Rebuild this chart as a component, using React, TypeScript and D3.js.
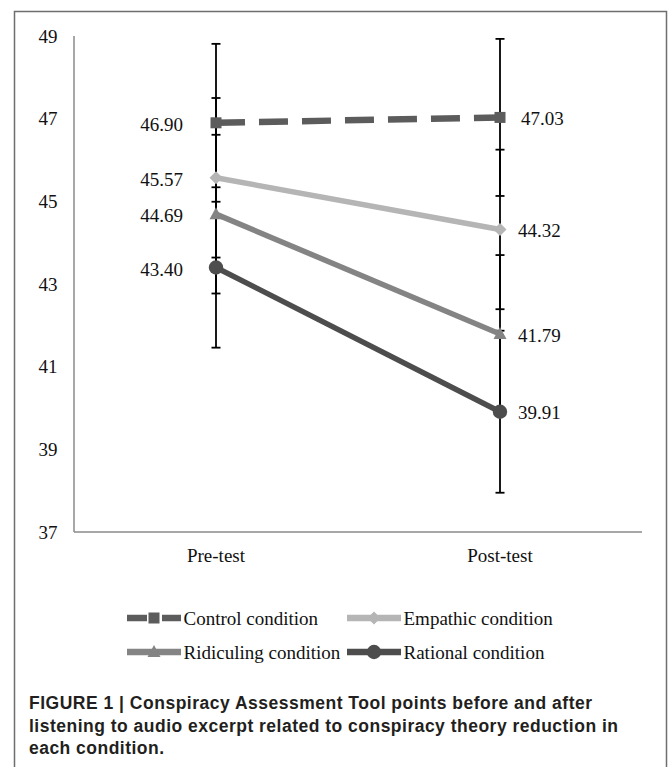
import React from "react";
import * as d3 from "d3";

const categories = ["Pre-test", "Post-test"];
const seriesNames = ["Control condition", "Empathic condition", "Ridiculing condition", "Rational condition"];
const controlValues = [46.9, 47.03];
const empathicValues = [45.57, 44.32];
const ridiculingValues = [44.69, 41.79];
const rationalValues = [43.4, 39.91];
const controlErrors = [1.91, 1.9];
const empathicErrors = [1.93, 1.93];
const ridiculingErrors = [1.92, 1.91];
const rationalErrors = [1.94, 1.96];
const yTicks = [37, 39, 41, 43, 45, 47, 49];
const captionLines = [
  "FIGURE 1 | Conspiracy Assessment Tool points before and after",
  "listening to audio excerpt related to conspiracy theory reduction in",
  "each condition.",
];
const captionWidths = [563, 589, 135];

type Series = {
  name: string;
  values: number[];
  errors: number[];
  color: string;
  marker: "square" | "diamond" | "triangle" | "circle";
  dashed: boolean;
};

const series: Series[] = [
  { name: seriesNames[0], values: controlValues, errors: controlErrors, color: "#5c5c5c", marker: "square", dashed: true },
  { name: seriesNames[1], values: empathicValues, errors: empathicErrors, color: "#b5b5b5", marker: "diamond", dashed: false },
  { name: seriesNames[2], values: ridiculingValues, errors: ridiculingErrors, color: "#848484", marker: "triangle", dashed: false },
  { name: seriesNames[3], values: rationalValues, errors: rationalErrors, color: "#4d4d4d", marker: "circle", dashed: false },
];

const SERIF = "'Liberation Serif', 'Times New Roman', serif";
const SANS = "'Liberation Sans', Arial, sans-serif";

function Marker({ type, x, y, color }: { type: string; x: number; y: number; color: string }) {
  if (type === "square") return <rect x={x - 5.5} y={y - 5.5} width={11} height={11} fill={color} />;
  if (type === "diamond")
    return <path d={`M${x},${y - 6.5}L${x + 6.5},${y}L${x},${y + 6.5}L${x - 6.5},${y}Z`} fill={color} />;
  if (type === "triangle")
    return <path d={`M${x},${y - 7}L${x + 6.5},${y + 5}L${x - 6.5},${y + 5}Z`} fill={color} />;
  return <circle cx={x} cy={y} r={7.2} fill={color} />;
}

export default function App() {
  const W = 669;
  const H = 767;
  const x = d3.scalePoint<string>().domain(categories).range([74, 642]).padding(0.5);
  const y = d3.scaleLinear().domain([37, 49]).range([532, 36]);
  const line = d3
    .line<number>()
    .x((_, i) => x(categories[i]) as number)
    .y((d) => y(d));

  const legendItems = [
    { s: series[0], lx: 127, ly: 618 },
    { s: series[1], lx: 347, ly: 618 },
    { s: series[2], lx: 127, ly: 652 },
    { s: series[3], lx: 347, ly: 652 },
  ];

  return (
    <svg width={W} height={H} style={{ position: "absolute", left: 0, top: 0, background: "#fff" }}>
      <rect x={0} y={0} width={W} height={H} fill="#fff" />
      {/* frame */}
      <path d={`M14.5,${H + 5}V11.5H666.5V${H + 5}`} fill="none" stroke="#6e6e6e" strokeWidth={1.5} />
      {/* axes */}
      <line x1={74} y1={y(49)} x2={74} y2={y(37)} stroke="#8a8a8a" strokeWidth={1.5} />
      <line x1={74} y1={y(37)} x2={642} y2={y(37)} stroke="#8a8a8a" strokeWidth={1.5} />
      {yTicks.map((t) => (
        <text key={t} x={57.5} y={y(t)} dy="0.35em" textAnchor="end" fontFamily={SERIF} fontSize={19} fill="#111">
          {t}
        </text>
      ))}
      {categories.map((c) => (
        <text key={c} x={x(c)} y={561.5} textAnchor="middle" fontFamily={SERIF} fontSize={19} fill="#111">
          {c}
        </text>
      ))}
      {/* error bars */}
      {series.map((s) =>
        s.values.map((v, i) => {
          const cx = x(categories[i]) as number;
          const y1 = y(v + s.errors[i]);
          const y2 = y(v - s.errors[i]);
          return (
            <g key={s.name + i} stroke="#000" strokeWidth={1.8}>
              <line x1={cx} x2={cx} y1={y1} y2={y2} />
              <line x1={cx - 4.5} x2={cx + 4.5} y1={y1} y2={y1} />
              <line x1={cx - 4.5} x2={cx + 4.5} y1={y2} y2={y2} />
            </g>
          );
        })
      )}
      {/* lines */}
      {series.map((s) => (
        <path
          key={s.name}
          d={line(s.values) || ""}
          fill="none"
          stroke={s.color}
          strokeWidth={s.dashed ? 6.5 : 5.5}
          strokeDasharray={s.dashed ? "29,14" : undefined}
        />
      ))}
      {/* markers */}
      {series.map((s) =>
        s.values.map((v, i) => (
          <Marker key={s.name + "m" + i} type={s.marker} x={x(categories[i]) as number} y={y(v)} color={s.color} />
        ))
      )}
      {/* data labels */}
      {series.map((s) =>
        s.values.map((v, i) => {
          const cx = x(categories[i]) as number;
          const pre = i === 0;
          return (
            <text
              key={s.name + "l" + i}
              x={pre ? cx - 33 : cx + (s.dashed ? 21 : 18)}
              y={y(v) + (pre ? 1.5 : 1)}
              dy="0.35em"
              textAnchor={pre ? "end" : "start"}
              fontFamily={SERIF}
              fontSize={19}
              fill="#111"
            >
              {v.toFixed(2)}
            </text>
          );
        })
      )}
      {/* legend */}
      {legendItems.map(({ s, lx, ly }) => (
        <g key={s.name + "leg"}>
          <line
            x1={lx}
            x2={lx + 54}
            y1={ly}
            y2={ly}
            stroke={s.color}
            strokeWidth={6.5}
            strokeDasharray={s.dashed ? "20,15" : undefined}
          />
          <Marker type={s.marker} x={lx + 27} y={ly} color={s.color} />
          <text x={lx + 56.5} y={ly} dy="0.35em" fontFamily={SERIF} fontSize={19} fill="#111">
            {s.name}
          </text>
        </g>
      ))}
      {/* caption */}
      {captionLines.map((t, i) => (
        <text
          key={i}
          x={29}
          y={709 + i * 22.5}
          fontFamily={SANS}
          fontWeight="bold"
          fontSize={17.5}
          fill="#231f20"
          textLength={captionWidths[i]}
          lengthAdjust="spacing"
        >
          {t}
        </text>
      ))}
    </svg>
  );
}
